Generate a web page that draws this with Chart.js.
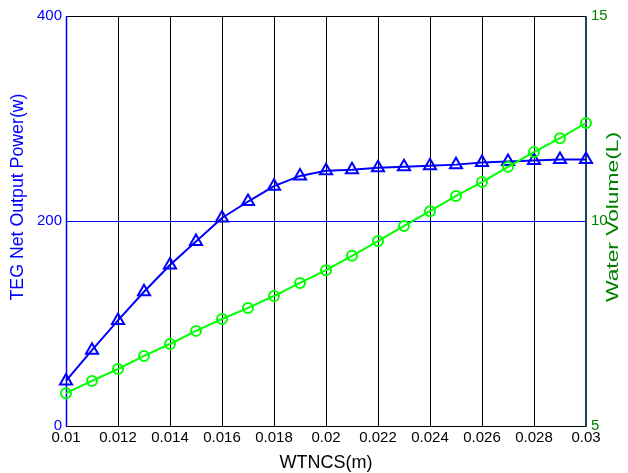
<!DOCTYPE html>
<html lang="en">
<head>
    <meta charset="UTF-8">
    <title>TEG power and water volume vs WTNCS</title>
    <script src="https://cdn.jsdelivr.net/npm/chart.js"></script>
    <style>
        body {
            margin: 0;
            padding: 0;
            background-color: #ffffff;
        }

        #chart {
            display: block;
        }
    </style>
</head>
<body>
    <canvas id="chart" width="628" height="473"></canvas>

    <script>
        // WTNCS (m)
        const wtncs = [0.010, 0.011, 0.012, 0.013, 0.014, 0.015, 0.016, 0.017, 0.018, 0.019, 0.020,
                       0.021, 0.022, 0.023, 0.024, 0.025, 0.026, 0.027, 0.028, 0.029, 0.030];
        // TEG net output power (w), left axis
        const tegPower = [44, 74, 103, 131, 157, 180, 203, 219, 234, 244, 249,
                          250, 252, 253, 254, 255, 257, 258, 259, 260, 260];
        // water volume (L), right axis
        const waterVolume = [5.80, 6.10, 6.39, 6.71, 7.00, 7.32, 7.61, 7.88, 8.17, 8.49, 8.80,
                             9.15, 9.51, 9.88, 10.24, 10.61, 10.95, 11.32, 11.68, 12.02, 12.39];

        const xTicks = [0.01, 0.012, 0.014, 0.016, 0.018, 0.02, 0.022, 0.024, 0.026, 0.028, 0.03];
        const powerTicks = [0, 200, 400];
        const volumeTicks = [5, 10, 15];

        const FONT = 'Liberation Sans, Arial, sans-serif';
        const BLUE = '#0000ff';
        const GREEN = '#00ff00';
        const DARK_GREEN = '#008000';
        const RIGHT_AXIS = '#17465f';

        // frame lines and the 200 w reference line, drawn under the markers
        const framePlugin = {
            id: 'frame',
            beforeDatasetsDraw(chart) {
                const { ctx, chartArea: a } = chart;
                const y200 = Math.round(chart.scales.yPower.getPixelForValue(200)) + 0.5;
                ctx.save();
                ctx.lineWidth = 1;
                ctx.strokeStyle = BLUE;
                ctx.beginPath();
                ctx.moveTo(a.left, y200);
                ctx.lineTo(a.right, y200);
                ctx.stroke();

                ctx.strokeStyle = '#000000';
                ctx.beginPath();
                ctx.moveTo(a.left, a.top + 0.5);
                ctx.lineTo(a.right, a.top + 0.5);
                ctx.moveTo(a.left, a.bottom + 0.5);
                ctx.lineTo(a.right, a.bottom + 0.5);
                ctx.stroke();

                ctx.lineWidth = 1.5;
                ctx.strokeStyle = BLUE;
                ctx.beginPath();
                ctx.moveTo(a.left + 0.5, a.top);
                ctx.lineTo(a.left + 0.5, a.bottom + 1);
                ctx.stroke();

                ctx.lineWidth = 2;
                ctx.strokeStyle = RIGHT_AXIS;
                ctx.beginPath();
                ctx.moveTo(a.right, a.top);
                ctx.lineTo(a.right, a.bottom + 1);
                ctx.stroke();
                ctx.restore();
            }
        };

        // vertical text, read bottom-to-top, stretched to a given length
        function verticalText(ctx, text, x, y, size, length, color) {
            ctx.save();
            ctx.font = size + 'px ' + FONT;
            ctx.fillStyle = color;
            ctx.textAlign = 'center';
            ctx.textBaseline = 'middle';
            ctx.translate(x, y);
            ctx.rotate(-Math.PI / 2);
            ctx.scale(length / ctx.measureText(text).width, 1);
            ctx.fillText(text, 0, 0);
            ctx.restore();
        }

        const titlesPlugin = {
            id: 'titles',
            afterDraw(chart) {
                const { ctx, chartArea: a } = chart;
                ctx.save();
                ctx.font = '18px ' + FONT;
                ctx.textAlign = 'center';
                ctx.textBaseline = 'middle';
                ctx.fillStyle = '#000000';
                ctx.fillText('WTNCS(m)', (a.left + a.right) / 2, 463);
                ctx.restore();

                verticalText(ctx, 'TEG Net Output Power(w)', 18, 197, 18, 207, BLUE);
                verticalText(ctx, 'Water Volume(L)', 613, 217, 17, 170, DARK_GREEN);
            }
        };

        new Chart(document.getElementById('chart'), {
            type: 'line',
            data: {
                datasets: [
                    {
                        label: 'TEG Net Output Power',
                        data: wtncs.map((x, i) => ({ x: x, y: tegPower[i] })),
                        yAxisID: 'yPower',
                        borderColor: BLUE,
                        backgroundColor: 'rgba(0,0,0,0)',
                        borderWidth: 2,
                        pointStyle: 'triangle',
                        pointRadius: 7,
                        pointBorderWidth: 2,
                        pointBorderColor: BLUE,
                        pointBackgroundColor: 'rgba(0,0,0,0)',
                        tension: 0,
                        clip: false,
                        order: 1
                    },
                    {
                        label: 'Water Volume',
                        data: wtncs.map((x, i) => ({ x: x, y: waterVolume[i] })),
                        yAxisID: 'yVolume',
                        borderColor: GREEN,
                        backgroundColor: 'rgba(0,0,0,0)',
                        borderWidth: 2,
                        pointStyle: 'circle',
                        pointRadius: 5,
                        pointBorderWidth: 2,
                        pointBorderColor: GREEN,
                        pointBackgroundColor: 'rgba(0,0,0,0)',
                        tension: 0,
                        clip: false,
                        order: 0
                    }
                ]
            },
            options: {
                responsive: false,
                animation: false,
                events: [],
                layout: { padding: { top: 16, left: 0, right: 0, bottom: 0 } },
                plugins: {
                    legend: { display: false },
                    tooltip: { enabled: false }
                },
                scales: {
                    x: {
                        type: 'linear',
                        min: 0.01,
                        max: 0.03,
                        afterBuildTicks: s => { s.ticks = xTicks.map(v => ({ value: v })); },
                        afterFit: s => { s.height = 47; },
                        border: { display: false },
                        grid: {
                            drawTicks: false,
                            lineWidth: 1,
                            color: c => (c.index === 0 || c.index === xTicks.length - 1) ? 'rgba(0,0,0,0)' : '#000000'
                        },
                        ticks: {
                            padding: 3,
                            color: '#000000',
                            font: { family: FONT, size: 15 },
                            maxRotation: 0,
                            callback: v => String(Number(v.toFixed(3)))
                        }
                    },
                    yPower: {
                        type: 'linear',
                        position: 'left',
                        min: 0,
                        max: 400,
                        afterBuildTicks: s => { s.ticks = powerTicks.map(v => ({ value: v })); },
                        afterFit: s => { s.width = 66; },
                        border: { display: false },
                        grid: { display: false, drawTicks: false },
                        ticks: {
                            padding: 4,
                            color: BLUE,
                            font: { family: FONT, size: 15 }
                        }
                    },
                    yVolume: {
                        type: 'linear',
                        position: 'right',
                        min: 5,
                        max: 15,
                        afterBuildTicks: s => { s.ticks = volumeTicks.map(v => ({ value: v })); },
                        afterFit: s => { s.width = 42; },
                        border: { display: false },
                        grid: { display: false, drawTicks: false },
                        ticks: {
                            padding: 5,
                            color: DARK_GREEN,
                            font: { family: FONT, size: 15 }
                        }
                    }
                }
            },
            plugins: [framePlugin, titlesPlugin]
        });
    </script>
</body>
</html>
